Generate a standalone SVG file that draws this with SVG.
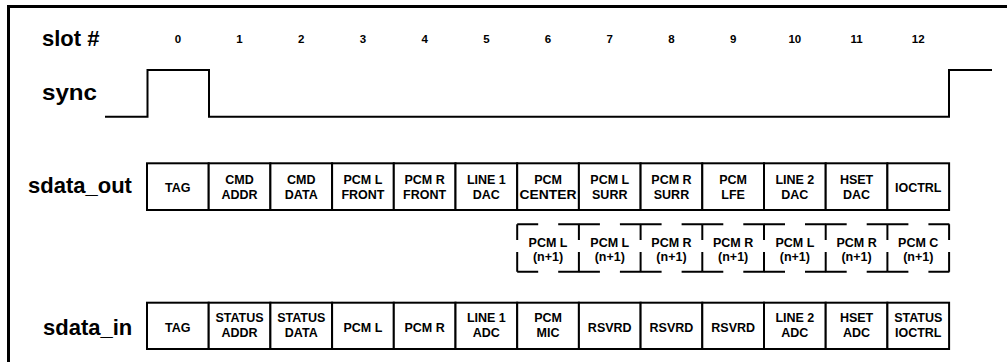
<svg xmlns="http://www.w3.org/2000/svg" width="1007" height="362" viewBox="0 0 1007 362">
<style>
.lbl{font-family:"Liberation Sans",Arial,Helvetica,sans-serif;font-weight:bold;font-size:22px;fill:#000}
.num{font-family:"Liberation Sans",Arial,Helvetica,sans-serif;font-weight:bold;font-size:11.5px;fill:#000;text-anchor:middle}
.bt{font-family:"Liberation Sans",Arial,Helvetica,sans-serif;font-weight:bold;font-size:12.5px;fill:#000;text-anchor:middle}
.box{fill:#fff;stroke:#000;stroke-width:2}
.ln{fill:none;stroke:#000;stroke-width:2}
.frame{fill:none;stroke:#000;stroke-width:3}
</style>
<rect width="1007" height="362" fill="#fff"/>
<g id="frame"><path class="frame" d="M8.5,362 V6.5 H1007"/></g>
<g id="labels">
<text class="lbl" x="42" y="46">slot #</text>
<text class="lbl" x="42" y="100" textLength="55" lengthAdjust="spacingAndGlyphs">sync</text>
<text class="lbl" x="28" y="193">sdata_out</text>
<text class="lbl" x="43" y="335">sdata_in</text>
</g>
<g id="slot-numbers">
<text class="num" x="177.85" y="43">0</text>
<text class="num" x="239.55" y="43">1</text>
<text class="num" x="301.25" y="43">2</text>
<text class="num" x="362.95" y="43">3</text>
<text class="num" x="424.65" y="43">4</text>
<text class="num" x="486.35" y="43">5</text>
<text class="num" x="548.05" y="43">6</text>
<text class="num" x="609.75" y="43">7</text>
<text class="num" x="671.45" y="43">8</text>
<text class="num" x="733.15" y="43">9</text>
<text class="num" x="794.85" y="43">10</text>
<text class="num" x="856.55" y="43">11</text>
<text class="num" x="918.25" y="43">12</text>
</g>
<g id="connectors">
<path id="sync-wave" class="ln" d="M105,116.7 H147.5 V70 H209 V116.7 H949 V70 H992"/>
</g>
<g id="sdata_out">
<g id="out0"><rect class="box" x="147" y="163.3" width="61.7" height="46.7"/><text class="bt" x="177.85" y="192">TAG</text></g>
<g id="out1"><rect class="box" x="208.7" y="163.3" width="61.7" height="46.7"/><text class="bt" x="239.55" y="183.5">CMD</text><text class="bt" x="239.55" y="198.5">ADDR</text></g>
<g id="out2"><rect class="box" x="270.4" y="163.3" width="61.7" height="46.7"/><text class="bt" x="301.25" y="183.5">CMD</text><text class="bt" x="301.25" y="198.5">DATA</text></g>
<g id="out3"><rect class="box" x="332.1" y="163.3" width="61.7" height="46.7"/><text class="bt" x="362.95" y="183.5">PCM L</text><text class="bt" x="362.95" y="198.5">FRONT</text></g>
<g id="out4"><rect class="box" x="393.8" y="163.3" width="61.7" height="46.7"/><text class="bt" x="424.65" y="183.5">PCM R</text><text class="bt" x="424.65" y="198.5">FRONT</text></g>
<g id="out5"><rect class="box" x="455.5" y="163.3" width="61.7" height="46.7"/><text class="bt" x="486.35" y="183.5">LINE 1</text><text class="bt" x="486.35" y="198.5">DAC</text></g>
<g id="out6"><rect class="box" x="517.2" y="163.3" width="61.7" height="46.7"/><text class="bt" x="548.05" y="183.5">PCM</text><text class="bt" x="548.05" y="198.5" textLength="57" lengthAdjust="spacingAndGlyphs">CENTER</text></g>
<g id="out7"><rect class="box" x="578.9" y="163.3" width="61.7" height="46.7"/><text class="bt" x="609.75" y="183.5">PCM L</text><text class="bt" x="609.75" y="198.5">SURR</text></g>
<g id="out8"><rect class="box" x="640.6" y="163.3" width="61.7" height="46.7"/><text class="bt" x="671.45" y="183.5">PCM R</text><text class="bt" x="671.45" y="198.5">SURR</text></g>
<g id="out9"><rect class="box" x="702.3" y="163.3" width="61.7" height="46.7"/><text class="bt" x="733.15" y="183.5">PCM</text><text class="bt" x="733.15" y="198.5">LFE</text></g>
<g id="out10"><rect class="box" x="764" y="163.3" width="61.7" height="46.7"/><text class="bt" x="794.85" y="183.5">LINE 2</text><text class="bt" x="794.85" y="198.5">DAC</text></g>
<g id="out11"><rect class="box" x="825.7" y="163.3" width="61.7" height="46.7"/><text class="bt" x="856.55" y="183.5">HSET</text><text class="bt" x="856.55" y="198.5">DAC</text></g>
<g id="out12"><rect class="box" x="887.4" y="163.3" width="61.7" height="46.7"/><text class="bt" x="918.25" y="192">IOCTRL</text></g>
</g>
<g id="sdata_out_next">
<g id="nx6"><path class="ln" d="M517.2,224.3 h21 m20,0 h21 M517.2,271.7 h21 m20,0 h21 M517.2,224.3 V240 M517.2,252 V271.7 M578.9,224.3 V240 M578.9,252 V271.7"/><text class="bt" x="548.05" y="246.5">PCM L</text><text class="bt" x="548.05" y="261">(n+1)</text></g>
<g id="nx7"><path class="ln" d="M578.9,224.3 h21 m20,0 h21 M578.9,271.7 h21 m20,0 h21 M640.6,224.3 V240 M640.6,252 V271.7"/><text class="bt" x="609.75" y="246.5">PCM L</text><text class="bt" x="609.75" y="261">(n+1)</text></g>
<g id="nx8"><path class="ln" d="M640.6,224.3 h21 m20,0 h21 M640.6,271.7 h21 m20,0 h21 M702.3,224.3 V240 M702.3,252 V271.7"/><text class="bt" x="671.45" y="246.5">PCM R</text><text class="bt" x="671.45" y="261">(n+1)</text></g>
<g id="nx9"><path class="ln" d="M702.3,224.3 h21 m20,0 h21 M702.3,271.7 h21 m20,0 h21 M764,224.3 V240 M764,252 V271.7"/><text class="bt" x="733.15" y="246.5">PCM R</text><text class="bt" x="733.15" y="261">(n+1)</text></g>
<g id="nx10"><path class="ln" d="M764,224.3 h21 m20,0 h21 M764,271.7 h21 m20,0 h21 M825.7,224.3 V240 M825.7,252 V271.7"/><text class="bt" x="794.85" y="246.5">PCM L</text><text class="bt" x="794.85" y="261">(n+1)</text></g>
<g id="nx11"><path class="ln" d="M825.7,224.3 h21 m20,0 h21 M825.7,271.7 h21 m20,0 h21 M887.4,224.3 V240 M887.4,252 V271.7"/><text class="bt" x="856.55" y="246.5">PCM R</text><text class="bt" x="856.55" y="261">(n+1)</text></g>
<g id="nx12"><path class="ln" d="M887.4,224.3 h21 m20,0 h21 M887.4,271.7 h21 m20,0 h21 M949.1,224.3 V240 M949.1,252 V271.7"/><text class="bt" x="918.25" y="246.5">PCM C</text><text class="bt" x="918.25" y="261">(n+1)</text></g>
</g>
<g id="sdata_in">
<g id="in0"><rect class="box" x="147" y="302.7" width="61.7" height="46.3"/><text class="bt" x="177.85" y="331.5">TAG</text></g>
<g id="in1"><rect class="box" x="208.7" y="302.7" width="61.7" height="46.3"/><text class="bt" x="239.55" y="322">STATUS</text><text class="bt" x="239.55" y="337">ADDR</text></g>
<g id="in2"><rect class="box" x="270.4" y="302.7" width="61.7" height="46.3"/><text class="bt" x="301.25" y="322">STATUS</text><text class="bt" x="301.25" y="337">DATA</text></g>
<g id="in3"><rect class="box" x="332.1" y="302.7" width="61.7" height="46.3"/><text class="bt" x="362.95" y="331.5">PCM L</text></g>
<g id="in4"><rect class="box" x="393.8" y="302.7" width="61.7" height="46.3"/><text class="bt" x="424.65" y="331.5">PCM R</text></g>
<g id="in5"><rect class="box" x="455.5" y="302.7" width="61.7" height="46.3"/><text class="bt" x="486.35" y="322">LINE 1</text><text class="bt" x="486.35" y="337">ADC</text></g>
<g id="in6"><rect class="box" x="517.2" y="302.7" width="61.7" height="46.3"/><text class="bt" x="548.05" y="322">PCM</text><text class="bt" x="548.05" y="337">MIC</text></g>
<g id="in7"><rect class="box" x="578.9" y="302.7" width="61.7" height="46.3"/><text class="bt" x="609.75" y="331.5">RSVRD</text></g>
<g id="in8"><rect class="box" x="640.6" y="302.7" width="61.7" height="46.3"/><text class="bt" x="671.45" y="331.5">RSVRD</text></g>
<g id="in9"><rect class="box" x="702.3" y="302.7" width="61.7" height="46.3"/><text class="bt" x="733.15" y="331.5">RSVRD</text></g>
<g id="in10"><rect class="box" x="764" y="302.7" width="61.7" height="46.3"/><text class="bt" x="794.85" y="322">LINE 2</text><text class="bt" x="794.85" y="337">ADC</text></g>
<g id="in11"><rect class="box" x="825.7" y="302.7" width="61.7" height="46.3"/><text class="bt" x="856.55" y="322">HSET</text><text class="bt" x="856.55" y="337">ADC</text></g>
<g id="in12"><rect class="box" x="887.4" y="302.7" width="61.7" height="46.3"/><text class="bt" x="918.25" y="322">STATUS</text><text class="bt" x="918.25" y="337">IOCTRL</text></g>
</g>
</svg>
